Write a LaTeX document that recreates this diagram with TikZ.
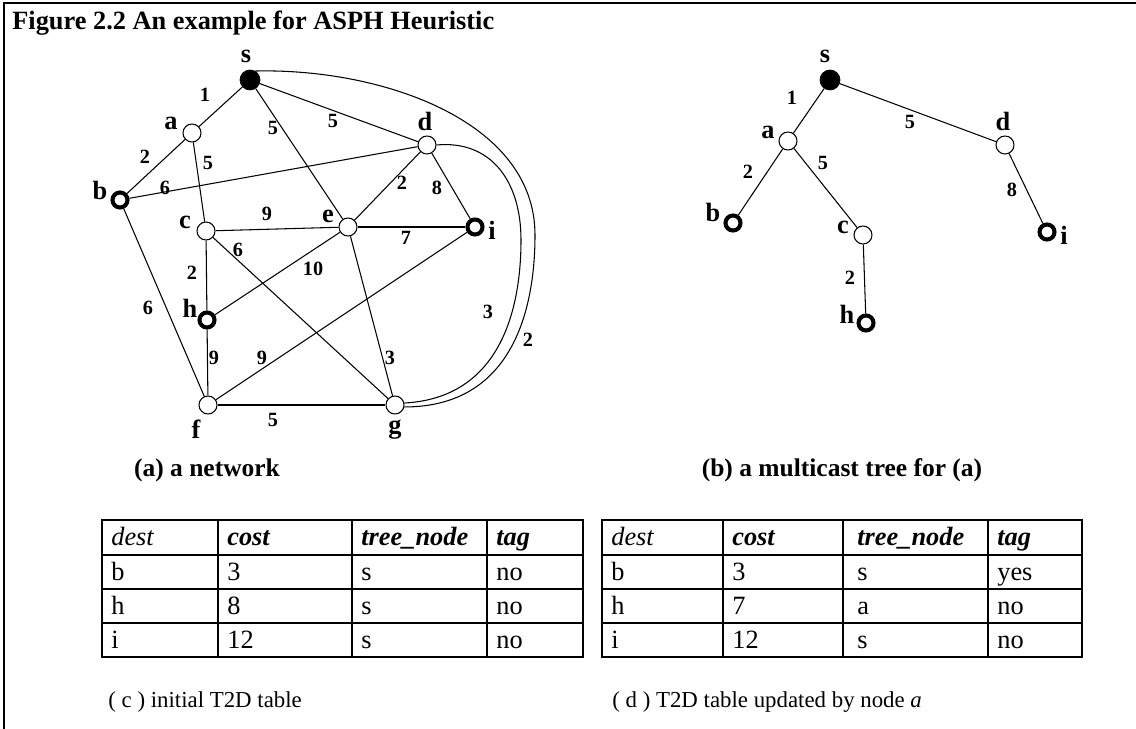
\documentclass[tikz,border=0pt]{standalone}
\usepackage{fontspec}
\setmainfont{Liberation Serif}
\usetikzlibrary{calc}

\begin{document}
\begin{tikzpicture}[x=0.02cm, y=-0.02cm, every node/.style={inner sep=0pt},
  vtx/.style={circle, draw, fill=white, line width=0.6pt, minimum size=0.36cm},
  src/.style={circle, draw, fill=black, minimum size=0.4cm},
  dst/.style={circle, draw, fill=white, line width=2.3pt, minimum size=0.3cm},
  lbl/.style={font=\fontsize{15}{15}\selectfont\bfseries},
  wt/.style={font=\fontsize{11.5}{11.5}\selectfont\bfseries},
  link/.style={line width=0.6pt},
  tabline/.style={line width=1pt},
  cell/.style={anchor=base west, font=\fontsize{15}{15}\selectfont},
  subcap/.style={font=\fontsize{14.5}{14.5}\selectfont\bfseries}]
  \useasboundingbox (0,0) rectangle (1136,729);
  \draw[line width=1.6pt] (1136,3) -- (4,3) -- (4,729);
  \node[anchor=base west, font=\fontsize{15}{15}\selectfont\bfseries] (title) at (12,30) {Figure 2.2 An example for ASPH Heuristic};

  % (a) the network
  \node[src] (s) at (250,80) {};
  \node[vtx] (a) at (192,133) {};
  \node[dst] (b) at (120,200) {};
  \node[vtx] (c) at (206,231) {};
  \node[vtx] (d) at (427,145) {};
  \node[vtx] (e) at (348,227) {};
  \node[vtx] (f) at (208,405) {};
  \node[vtx] (g) at (395,405) {};
  \node[dst] (h) at (207,320) {};
  \node[dst] (i) at (475,227) {};
  \node[lbl] (s-txt) at (246,56) {s};
  \node[lbl] (a-txt) at (171,123) {a};
  \node[lbl] (b-txt) at (100,190) {b};
  \node[lbl] (c-txt) at (185,222) {c};
  \node[lbl] (d-txt) at (425,121) {d};
  \node[lbl] (e-txt) at (328,216) {e};
  \node[lbl] (f-txt) at (196,429) {f};
  \node[lbl] (g-txt) at (395,430) {g};
  \node[lbl] (h-txt) at (190,308) {h};
  \node[lbl] (i-txt) at (492,230) {i};
  \draw[link] (s) -- (a);
  \draw[link] (s) -- (e);
  \draw[link] (s) -- (d);
  \draw[link] (a) -- (b);
  \draw[link] (a) -- (c);
  \draw[link] (b) -- (d);
  \draw[link] (b) -- (f);
  \draw[link] (c) -- (e);
  \draw[link] (c) -- (h);
  \draw[link] (c) -- (g);
  \draw[link] (d) -- (e);
  \draw[link] (d) -- (i);
  \draw[link] (e) -- (i);
  \draw[link] (e) -- (h);
  \draw[link] (e) -- (g);
  \draw[link] (h) -- (f);
  \draw[link] (f) -- (i);
  \draw[link] (f) -- (g);
  \coordinate (sg-turn) at (535,235);
  \coordinate (dg-turn) at (521,240);
  \draw[link] (s.60) .. controls (380,68) and (535,120) .. (sg-turn) .. controls (535,305) and (515,407) .. (g.-12);
  \draw[link] (d.east) .. controls (490,140) and (521,180) .. (dg-turn) .. controls (521,310) and (500,398) .. (g.12);
  \node[wt] (w-sa) at (205,95) {1};
  \node[wt] (w-se) at (273,128) {5};
  \node[wt] (w-sd) at (333,121) {5};
  \node[wt] (w-ab) at (145,157) {2};
  \node[wt] (w-ac) at (208,163) {5};
  \node[wt] (w-bd) at (165,188) {6};
  \node[wt] (w-ce) at (267,214) {9};
  \node[wt] (w-cg) at (238,250) {6};
  \node[wt] (w-eh) at (313,269) {10};
  \node[wt] (w-ch) at (192,273) {2};
  \node[wt] (w-bf) at (148,308) {6};
  \node[wt] (w-hf) at (214,358) {9};
  \node[wt] (w-fi) at (262,358) {9};
  \node[wt] (w-fg) at (273,420) {5};
  \node[wt] (w-de) at (402,183) {2};
  \node[wt] (w-di) at (437,188) {8};
  \node[wt] (w-ei) at (406,238) {7};
  \node[wt] (w-eg) at (390,358) {3};
  \node[wt] (w-dg) at (488,312) {3};
  \node[wt] (w-sg) at (528,340) {2};
  \node[subcap] (cap-a) at (207,470) {(a) a network};

  % (b) the multicast tree
  \node[src] (ts) at (830,80) {};
  \node[vtx] (ta) at (788,141) {};
  \node[dst] (tb) at (733,223) {};
  \node[vtx] (tc) at (863,235) {};
  \node[vtx] (td) at (1005,145) {};
  \node[dst] (th) at (866,323) {};
  \node[dst] (ti) at (1047,232) {};
  \node[lbl] (ts-txt) at (825,56) {s};
  \node[lbl] (ta-txt) at (768,132) {a};
  \node[lbl] (tb-txt) at (713,212) {b};
  \node[lbl] (tc-txt) at (843,227) {c};
  \node[lbl] (td-txt) at (1003,121) {d};
  \node[lbl] (th-txt) at (847,314) {h};
  \node[lbl] (ti-txt) at (1064,235) {i};
  \draw[link] (ts) -- (ta);
  \draw[link] (ts) -- (td);
  \draw[link] (ta) -- (tb);
  \draw[link] (ta) -- (tc);
  \draw[link] (tc) -- (th);
  \draw[link] (td) -- (ti);
  \node[wt] (tw-sa) at (792,98) {1};
  \node[wt] (tw-sd) at (910,122) {5};
  \node[wt] (tw-ab) at (748,172) {2};
  \node[wt] (tw-ac) at (823,163) {5};
  \node[wt] (tw-ch) at (850,278) {2};
  \node[wt] (tw-di) at (1012,190) {8};
  \node[subcap] (cap-b) at (842,470) {(b) a multicast tree for (a)};

  % (c) initial T2D table
  \draw[tabline] (102,520) rectangle (583,657);
  \draw[tabline] (102,555) -- (583,555) (102,589) -- (583,589) (102,623) -- (583,623);
  \draw[tabline] (218,520) -- (218,657) (352,520) -- (352,657) (487,520) -- (487,657);
  \node[cell] (c-dest) at (111,545) {\itshape dest};
  \node[cell] (c-cost) at (227,545) {\bfseries\itshape cost};
  \node[cell] (c-tree) at (361,545) {\bfseries\itshape tree\_node};
  \node[cell] (c-tag) at (496,545) {\bfseries\itshape tag};
  \foreach \y/\d/\c/\t/\g in {580/b/3/s/no, 614/h/8/s/no, 648/i/12/s/no}{
    \node[cell] (c-\d-dest) at (111,\y) {\d};
    \node[cell] (c-\d-cost) at (227,\y) {\c};
    \node[cell] (c-\d-tree) at (361,\y) {\t};
    \node[cell] (c-\d-tag) at (496,\y) {\g};
  }
  \node[anchor=west, font=\fontsize{13}{13}\selectfont] (cap-c) at (108,702) {( c ) initial T2D table};

  % (d) T2D table updated by node a
  \draw[tabline] (602,520) rectangle (1082,657);
  \draw[tabline] (602,555) -- (1082,555) (602,589) -- (1082,589) (602,623) -- (1082,623);
  \draw[tabline] (723,520) -- (723,657) (843,520) -- (843,657) (988,520) -- (988,657);
  \node[cell] (d-dest) at (611,545) {\itshape dest};
  \node[cell] (d-cost) at (732,545) {\bfseries\itshape cost};
  \node[cell] (d-tree) at (857,545) {\bfseries\itshape tree\_node};
  \node[cell] (d-tag) at (997,545) {\bfseries\itshape tag};
  \foreach \y/\d/\c/\t/\g in {580/b/3/s/yes, 614/h/7/a/no, 648/i/12/s/no}{
    \node[cell] (d-\d-dest) at (611,\y) {\d};
    \node[cell] (d-\d-cost) at (732,\y) {\c};
    \node[cell] (d-\d-tree) at (857,\y) {\t};
    \node[cell] (d-\d-tag) at (997,\y) {\g};
  }
  \node[anchor=west, font=\fontsize{13}{13}\selectfont] (cap-d) at (612,702) {( d ) T2D table updated by node \textit{a}};
\end{tikzpicture}
\end{document}
